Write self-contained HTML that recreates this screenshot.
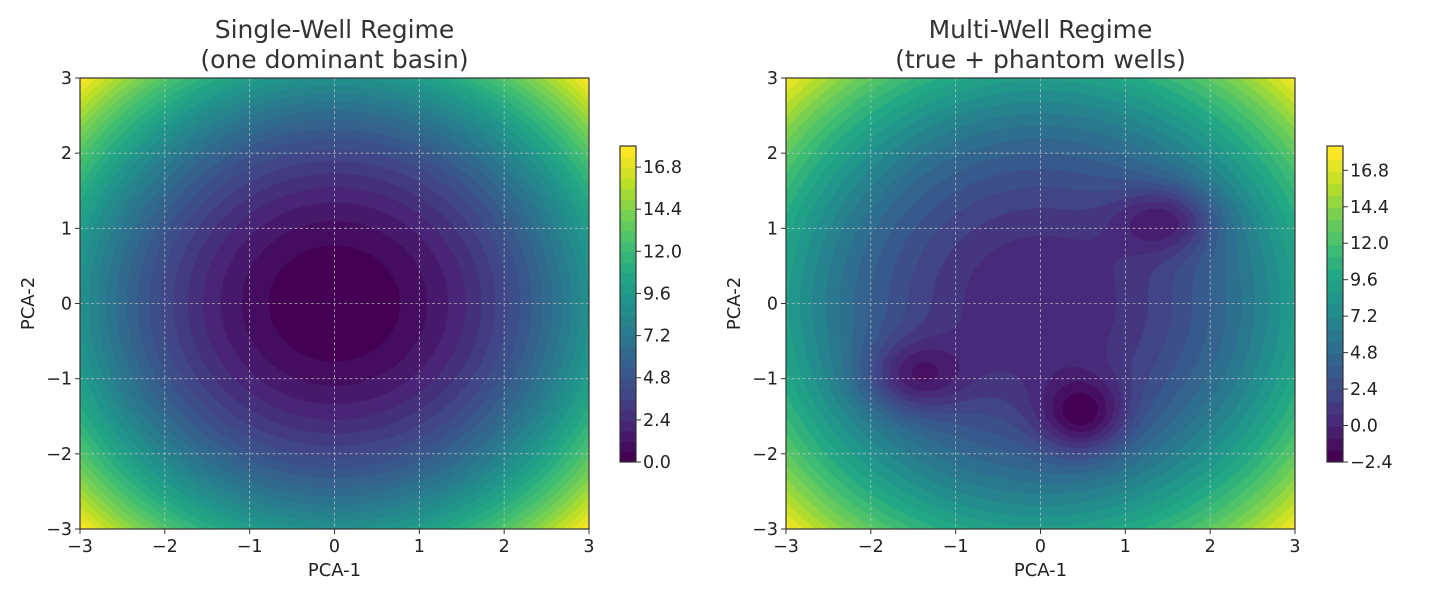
<!DOCTYPE html>
<html><head><meta charset="utf-8">
<style>
html,body{margin:0;padding:0;background:#fff;}
body{width:1440px;height:600px;position:relative;overflow:hidden;font-family:"DejaVu Sans","Liberation Sans",sans-serif;}
canvas{position:absolute;}
svg{position:absolute;left:0;top:0;}
</style></head>
<body>
<canvas id="c1" width="509" height="451" style="left:80px;top:78px"></canvas>
<canvas id="c2" width="509" height="451" style="left:786px;top:78px"></canvas>
<canvas id="cb1" width="16" height="316" style="left:620px;top:146px"></canvas>
<canvas id="cb2" width="16" height="316" style="left:1327px;top:146px"></canvas>
<svg id="ov" width="1440" height="600"></svg>
<script>
// ---- data ----
const axisTicks = [-3,-2,-1,0,1,2,3];
const leftLevelMin = 0, leftLevelStep = 0.6, leftLevelCount = 30;
const rightLevelMin = -2.4, rightLevelStep = 0.8, rightLevelCount = 26;
const leftCbTicks = [0.0,2.4,4.8,7.2,9.6,12.0,14.4,16.8];
const rightCbTicks = [-2.4,0.0,2.4,4.8,7.2,9.6,12.0,14.4,16.8];
const wellX = [1.5,-1.5,0.5];
const wellY = [1.12,-0.97,-1.5];
const wellDepth = [4.0,4.0,4.7];
const wellSx = [0.42,0.42,0.36];
const wellSy = [0.32,0.34,0.36];

const vir=[[68,1,84],[72,36,117],[65,68,135],[53,95,141],[42,120,142],[33,145,140],[34,168,132],[68,191,112],[122,209,81],[189,223,38],[253,231,37]];
function viridis(t){t=Math.max(0,Math.min(1,t));const p=t*10,i=Math.min(9,Math.floor(p)),f=p-i;
 return vir[i].map((v,k)=>Math.round(v+(vir[i+1][k]-v)*f));}
function fLeft(x,y){return x*x+y*y;}
function fRight(x,y){let v=x*x+y*y;
 for(let i=0;i<wellX.length;i++){const dx=x-wellX[i],dy=y-wellY[i];
  v-=wellDepth[i]*Math.exp(-(dx*dx)/(2*wellSx[i]*wellSx[i])-(dy*dy)/(2*wellSy[i]*wellSy[i]));}
 return v;}
function paint(id,fn,lmin,step,n){
 const c=document.getElementById(id),ctx=c.getContext('2d'),W=c.width,H=c.height;
 const img=ctx.createImageData(W,H);
 for(let py=0;py<H;py++){const y=3-6*(py+0.5)/H;
  for(let px=0;px<W;px++){const x=-3+6*(px+0.5)/W;
   let b=Math.floor((fn(x,y)-lmin)/step);b=Math.max(0,Math.min(n-1,b));
   const col=viridis(b/(n-1)),o=(py*W+px)*4;
   img.data[o]=col[0];img.data[o+1]=col[1];img.data[o+2]=col[2];img.data[o+3]=255;}}
 ctx.putImageData(img,0,0);}
function paintCb(id,n){
 const c=document.getElementById(id),ctx=c.getContext('2d'),H=c.height;
 for(let b=0;b<n;b++){const col=viridis(b/(n-1));ctx.fillStyle=`rgb(${col})`;
  const y0=H-(b+1)*H/n;ctx.fillRect(0,Math.floor(y0),c.width,Math.ceil(H/n)+1);}}
paint('c1',fLeft,leftLevelMin,leftLevelStep,leftLevelCount);
paint('c2',fRight,rightLevelMin,rightLevelStep,rightLevelCount);
paintCb('cb1',leftLevelCount);paintCb('cb2',rightLevelCount);

const NS='http://www.w3.org/2000/svg',ov=document.getElementById('ov');
function el(tag,attrs,txt){const e=document.createElementNS(NS,tag);for(const k in attrs)e.setAttribute(k,attrs[k]);if(txt!==undefined)e.textContent=txt;ov.appendChild(e);return e;}
function fmt(v){return (v<0?'\u2212':'')+Math.abs(v).toString();}
function fmt1(v){return (v<0?'\u2212':'')+Math.abs(v).toFixed(1);}
function axes(x0,y0,w,h,t1,t2,pfx){
 const sx=v=>x0+(v+3)/6*w, sy=v=>y0+h-(v+3)/6*h;
 axisTicks.forEach(t=>{
  if(t>-3&&t<3){
   let g=el('line',{x1:sx(t),x2:sx(t),y1:y0,y2:y0+h,stroke:'#ccc','stroke-width':0.8,'stroke-dasharray':'3,2.5','stroke-opacity':0.8});
   
   g=el('line',{x1:x0,x2:x0+w,y1:sy(t),y2:sy(t),stroke:'#ccc','stroke-width':0.8,'stroke-dasharray':'3,2.5','stroke-opacity':0.8});
   }
  let tk=el('line',{x1:sx(t),x2:sx(t),y1:y0+h,y2:y0+h+5,stroke:'#333','stroke-width':1});
  
  tk=el('line',{x1:x0-5,x2:x0,y1:sy(t),y2:sy(t),stroke:'#333','stroke-width':1});
  
  let lb=el('text',{x:sx(t),y:y0+h+23,'text-anchor':'middle','font-size':17.5,fill:'#222'},fmt(t));
  
  lb=el('text',{x:x0-8,y:sy(t)+6,'text-anchor':'end','font-size':17.5,fill:'#222'},fmt(t));
  
 });
 const r=el('rect',{x:x0,y:y0,width:w,height:h,fill:'none',stroke:'#333','stroke-width':1.2});
 
 let tt=el('text',{x:x0+w/2,y:38,'text-anchor':'middle','font-size':25,fill:'#333'},t1);
 
 tt=el('text',{x:x0+w/2,y:68,'text-anchor':'middle','font-size':25,fill:'#333'},t2);
 
 let xl=el('text',{x:x0+w/2,y:576,'text-anchor':'middle','font-size':18,fill:'#222'},'PCA-1');
 
 let yl=el('text',{x:0,y:0,'text-anchor':'middle','font-size':18,fill:'#222',transform:`translate(${x0-46},${y0+h/2}) rotate(-90)`},'PCA-2');
 
}
function cbar(x0,y0,w,h,lmin,step,n,ticks,pfx){
 const vmax=lmin+step*n, sy=v=>y0+h-(v-lmin)/(vmax-lmin)*h;
 const r=el('rect',{x:x0,y:y0,width:w,height:h,fill:'none',stroke:'#333','stroke-width':1.2});
 
 ticks.forEach(t=>{
  const tk=el('line',{x1:x0+w,x2:x0+w+5,y1:sy(t),y2:sy(t),stroke:'#333','stroke-width':1});
  
  const lb=el('text',{x:x0+w+7,y:sy(t)+6,'font-size':17.5,fill:'#222'},fmt1(t));
  
 });
}
axes(80,78,509,451,'Single-Well Regime','(one dominant basin)','left');
axes(786,78,509,451,'Multi-Well Regime','(true + phantom wells)','right');
cbar(620,146,16,316,leftLevelMin,leftLevelStep,leftLevelCount,leftCbTicks,'left');
cbar(1327,146,16,316,rightLevelMin,rightLevelStep,rightLevelCount,rightCbTicks,'right');
</script>
</body></html>
